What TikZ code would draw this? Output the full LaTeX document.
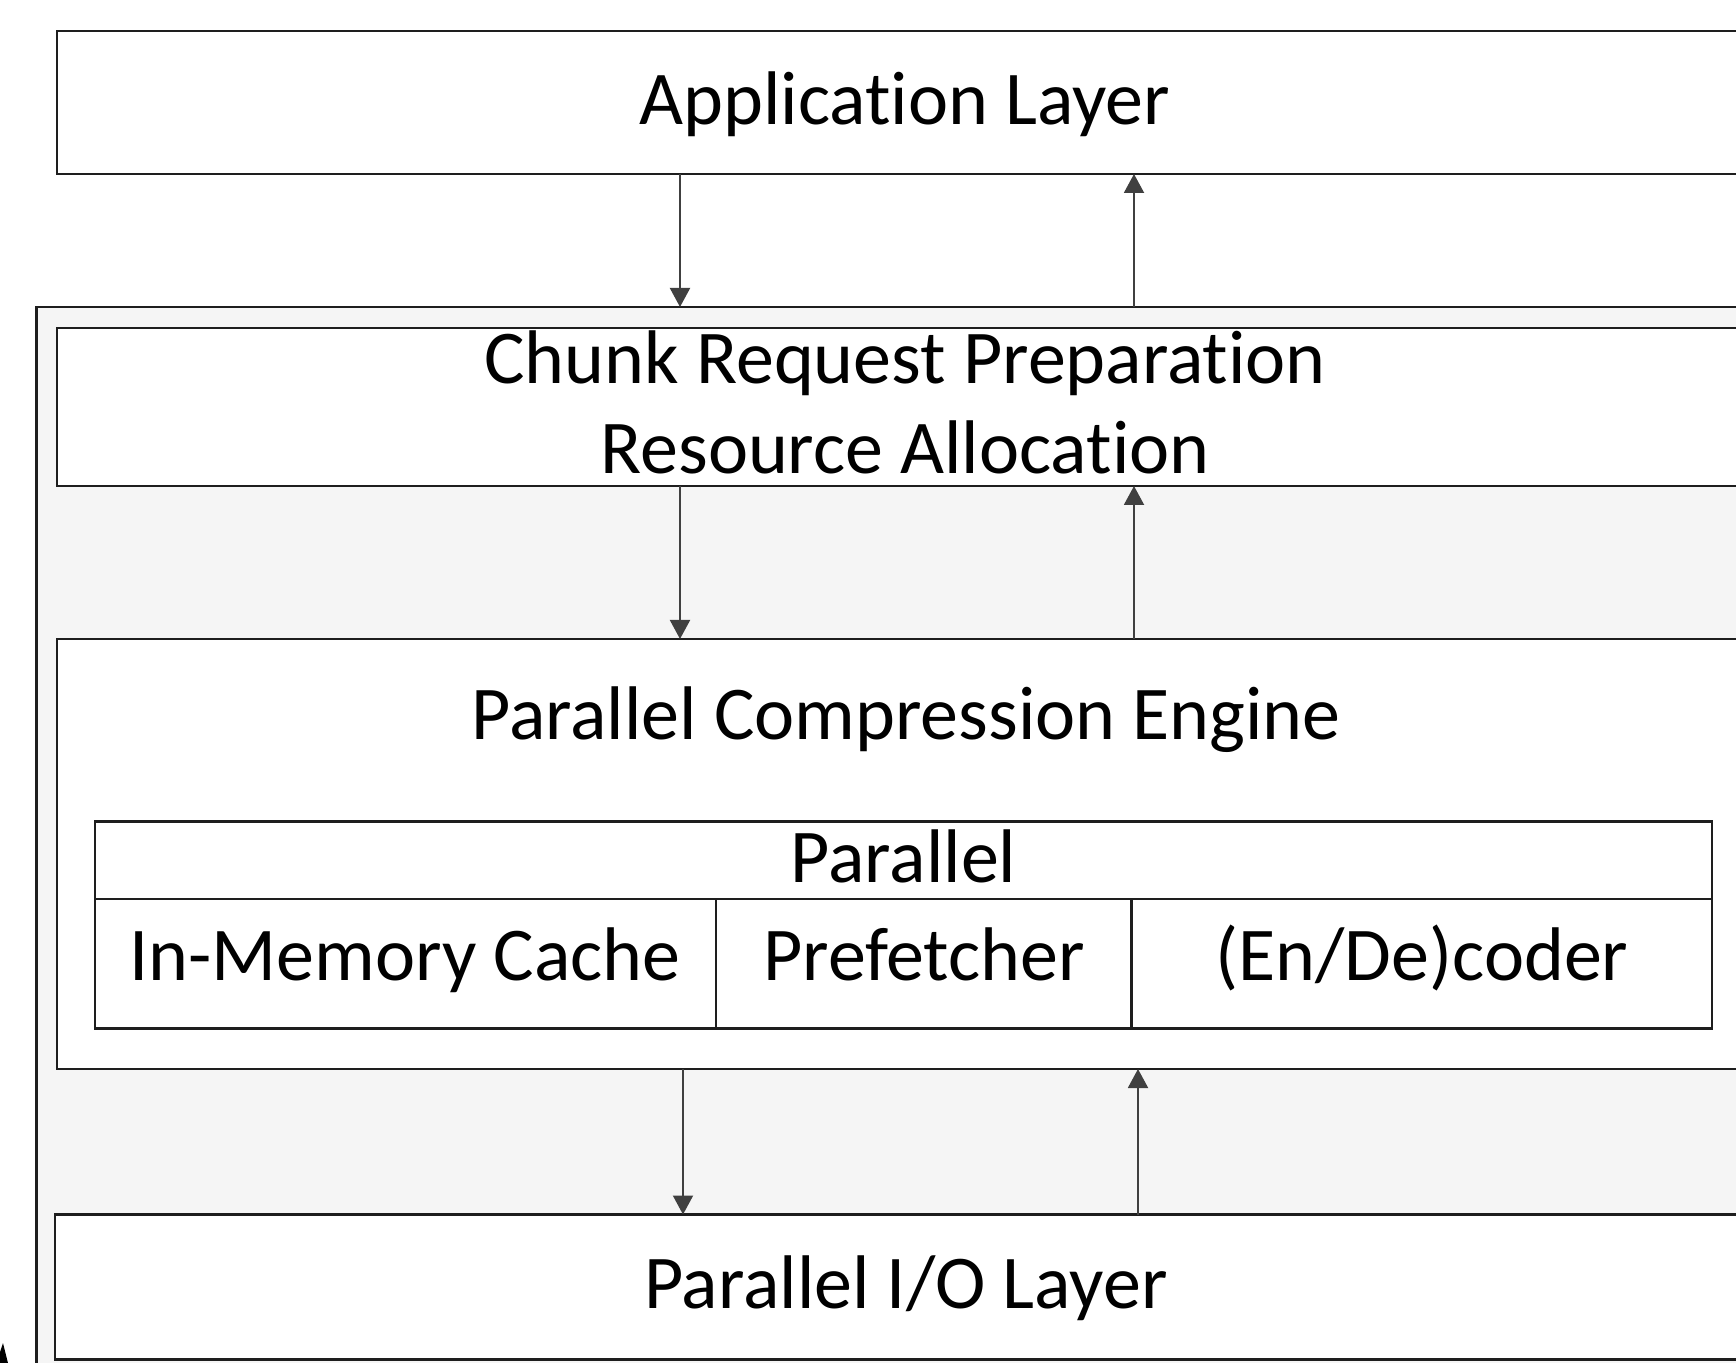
\documentclass[tikz,border=0pt]{standalone}
\usepackage{fontspec}
\setmainfont[Ligatures={NoCommon}]{Carlito}
\usetikzlibrary{arrows.meta}
\definecolor{boxline}{HTML}{1E1E1E}
\definecolor{arrowgray}{HTML}{404040}
\definecolor{panelgray}{HTML}{F5F5F5}
\begin{document}
\begin{tikzpicture}[x=0.5pt,y=-0.5pt,
  layer/.style={draw=boxline, line width=1.25pt, fill=white, anchor=north west,
    inner sep=0pt, outer sep=0pt},
  cell/.style={draw=boxline, line width=1.1pt, fill=white, anchor=north west,
    inner sep=0pt, outer sep=0pt},
  lbl/.style={anchor=base, inner sep=0pt, font=\fontsize{38}{45}\selectfont},
  flow/.style={draw=arrowgray, line width=1pt, -{Triangle[width=10pt,length=9.5pt]}},
]
\useasboundingbox (0,0) rectangle (1736,1363);
\clip (0,0) rectangle (1736,1363);
\fill[white] (0,0) rectangle (1736,1363);

% shaded frame holding the lower layers
\node[layer, fill=panelgray, minimum width=868.75pt, minimum height=539pt] (outer) at (36.5,307) {};

% layers
\node[layer, minimum width=848pt, minimum height=71.5pt] (app) at (57,31) {};
\node[layer, minimum width=848pt, minimum height=79pt] (chunk) at (57,328) {};
\node[layer, minimum width=848pt, minimum height=215pt] (pce) at (57,639) {};
\node[layer, minimum width=849pt, minimum height=72.5pt] (io) at (55,1214.5) {};

% component table inside the compression engine
\node[cell, minimum width=808.5pt, minimum height=38.75pt] (par) at (95,821.5) {};
\node[cell, minimum width=310.5pt, minimum height=64.75pt] (cache) at (95,899) {};
\node[cell, minimum width=207.75pt, minimum height=64.75pt] (pref) at (716,899) {};
\node[cell, minimum width=290.25pt, minimum height=64.75pt] (coder) at (1131.5,899) {};

% labels
\node[lbl] (apptxt) at (905,125) {Application Layer};
\node[lbl] (chunktxt) at (905,384) {Chunk Request Preparation};
\node[lbl] (restxt) at (905,474) {Resource Allocation};
\node[lbl] (pcetxt) at (906,739.5) {Parallel Compression Engine};
\node[lbl] (partxt) at (903.5,882) {Parallel};
\node[lbl] (cachetxt) at (405,980) {In-Memory Cache};
\node[lbl] (preftxt) at (924,980) {Prefetcher};
\node[lbl] (codertxt) at (1422,980) {(En/De)coder};
\node[lbl] (iotxt) at (906,1308.5) {Parallel I/O Layer};

% request / response flows
\coordinate (xa) at (680,0);
\coordinate (xb) at (1134,0);
\coordinate (xc) at (683,0);
\coordinate (xd) at (1138,0);
\draw[flow] (app.south -| xa) -- (outer.north -| xa);
\draw[flow] (outer.north -| xb) -- (app.south -| xb);
\draw[flow] (chunk.south -| xa) -- (pce.north -| xa);
\draw[flow] (pce.north -| xb) -- (chunk.south -| xb);
\draw[flow] (pce.south -| xc) -- (io.north -| xc);
\draw[flow] (io.north -| xd) -- (pce.south -| xd);

% dark corner mark
\fill[black] (0,1363) -- (0,1352) -- (3,1343) -- (8,1363) -- cycle;
\end{tikzpicture}
\end{document}
